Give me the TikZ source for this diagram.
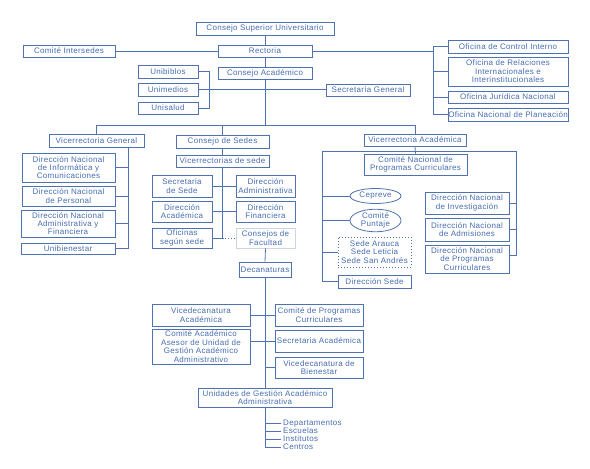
\documentclass[tikz,border=0pt]{standalone}
\usepackage{fontspec}
\setmainfont{Liberation Sans}[LetterSpace=4]
\usetikzlibrary{shapes.geometric}
\definecolor{ln}{RGB}{80,115,175}
\definecolor{tx}{RGB}{70,108,178}
\newcommand\bx[7][]{%
  \pgfmathsetmacro\bxw{#5-#3}\pgfmathsetmacro\bxh{#6-#4}%
  \node[box,minimum width=\bxw pt,minimum height=\bxh pt,#1] (#2) at ({(#3+#5)/2},{(#4+#6)/2}) {#7};}
\begin{document}
\begin{tikzpicture}[x=1pt,y=-1pt,
  box/.style={draw=ln,line width=0.8pt,rectangle,inner sep=0pt,align=center,text=tx,
    font=\fontsize{8}{8.4}\selectfont},
  oval/.style={draw=ln,line width=0.8pt,ellipse,inner sep=0pt,align=center,text=tx,
    font=\fontsize{8}{8.4}\selectfont},
  lbl/.style={inner xsep=2pt,inner ysep=0pt,text height=5.6pt,text depth=1.6pt,anchor=west,text=tx,
    font=\fontsize{8}{8.4}\selectfont},
  conn/.style={draw=ln,line width=0.8pt}]
\useasboundingbox (0,0) rectangle (590,469);
% top
\bx{csu}{196}{22}{334}{35}{Consejo Superior Universitario}
\bx{rect}{218}{45}{312}{57}{Rectoria}
\bx{ci}{23}{45}{115}{57}{Comité Intersedes}
\bx{cacad}{218}{67}{312}{79}{Consejo Académico}
\bx{unib}{138}{65}{198}{78}{Unibiblos}
\bx{unim}{138}{83}{198}{96}{Unimedios}
\bx{unis}{138}{102}{198}{114}{Unisalud}
\bx{secg}{326}{84}{410}{96}{Secretaría General}
\bx{oci}{448}{40}{568}{53}{Oficina de Control Interno}
\bx{orel}{448}{57}{568}{86}{Oficina de Relaciones\\Internacionales e\\Interinstitucionales}
\bx{ojn}{448}{91}{568}{103}{Oficina Jurídica Nacional}
\bx{onp}{448}{108}{568}{121}{Oficina Nacional de Planeación}
% second level
\bx{vg}{49}{134}{144}{147}{Vicerrectoria General}
\bx{cs}{176}{135}{269}{148}{Consejo de Sedes}
\bx{va}{364}{134}{466}{146}{Vicerrectoria Académica}
% vicerrectoria general children
\bx{dnic}{22}{153}{115}{182}{Dirección Nacional\\de Informática y\\Comunicaciones}
\bx{dnp}{22}{186}{115}{206}{Dirección Nacional\\de Personal}
\bx{dnaf}{21}{210}{115}{237}{Dirección Nacional\\Administrativa y\\Financiera}
\bx{ubien}{21}{243}{115}{254}{Unibienestar}
% consejo de sedes
\bx{vs}{176}{155}{269}{167}{Vicerrectorias de sede}
\bx{ss}{152}{175}{212}{197}{Secretaria\\de Sede}
\bx{dac}{152}{201}{212}{222}{Dirección\\Académica}
\bx{ofs}{152}{228}{212}{248}{Oficinas\\según sede}
\bx{dad}{236}{175}{295}{197}{Dirección\\Administrativa}
\bx{dfi}{236}{201}{295}{222}{Dirección\\Financiera}
\bx[draw=ln!30]{cf}{236}{228}{295}{248}{Consejos de\\Facultad}
\bx{dec}{239}{262}{291}{277}{Decanaturas}
\bx{vda}{152}{304}{250}{326}{Vicedecanatura\\Académica}
\bx{caa}{152}{329}{250}{364}{Comité Académico\\Asesor de Unidad de\\Gestión Académico\\Administrativo}
\bx{cpc}{275}{304}{363}{326}{Comité de Programas\\Curriculares}
\bx{sa}{275}{330}{363}{352}{Secretaria Académica}
\bx{vdb}{275}{357}{363}{378}{Vicedecanatura de\\Bienestar}
\bx{ugaa}{198}{388}{332}{407}{Unidades de Gestión Académico\\Administrativa}
\node[lbl] (dep) at (281,423) {Departamentos};
\node[lbl] (esc) at (281,431.5) {Escuelas};
\node[lbl] (ins) at (281,439.5) {Institutos};
\node[lbl] (cen) at (281,447.5) {Centros};
% vicerrectoria academica
\bx{cnpc}{364}{154}{467}{175}{Comité Nacional de\\Programas Curriculares}
\node[oval,minimum width=51pt,minimum height=15pt] (cep) at (375.5,196) {Cepreve};
\node[oval,minimum width=51pt,minimum height=19pt] (cpu) at (375.5,220.5) {Comité\\Puntaje};
\bx[dash pattern=on 1pt off 2pt]{sedes}{338}{237}{411}{267}{Sede Arauca\\Sede Leticia\\Sede San Andrés}
\bx{dse}{338}{275}{411}{288}{Dirección Sede}
\bx{dni}{425}{192}{509}{214}{Dirección Nacional\\de Investigación}
\bx{dna}{425}{218}{509}{241}{Dirección Nacional\\de Admisiones}
\bx{dnpc}{425}{245}{509}{273}{Dirección Nacional\\de Programas\\Curriculares}
% coordinates
\coordinate (hbar) at (265,125);
\coordinate (lb) at (209,90);
\coordinate (rb) at (433,51);
\coordinate (vgx) at (128,150);
\coordinate (lbr) at (322,151);
\coordinate (rbr) at (516,151);
% connectors
\begin{scope}[conn]
\draw (csu.south) -- (rect.north);
\draw (rect.south) -- (cacad.north);
\draw (cacad.south) -- (hbar);
\draw (ci.east) -- (rect.west);
\draw (rect.east) -- (rect.east -| rb);
\draw (oci.west) -- (oci.west -| rb) -- (onp.west -| rb) -- (onp.west);
\draw (orel.west) -- (orel.west -| rb);
\draw (ojn.west) -- (ojn.west -| rb);
\draw (unib.east) -- (unib.east -| lb) -- (unis.east -| lb) -- (unis.east);
\draw (unim.east) -- (unim.east -| secg.west);
\draw (vg.north) -- (vg.north |- hbar) -- (va.north |- hbar) -- (va.north);
\draw (cs.north) -- (cs.north |- hbar);
% VG
\draw (vg.south -| vgx) -- (ubien.east -| vgx) -- (ubien.east);
\draw (dnic.east) -- (dnic.east -| vgx);
\draw (dnp.east) -- (dnp.east -| vgx);
\draw (dnaf.east) -- (dnaf.east -| vgx);
% CS
\draw (cs.south) -- (vs.north);
\draw (vs.south) -- (vs.south |- ofs.east) -- (ofs.east);
\draw (ss.east) -- (dad.west);
\draw (dac.east) -- (dfi.west);
\draw[dotted] (ofs.east -| vs.south) -- (cf.west);
\draw (cf.south) -- (dec.north);
\draw (dec.south) -- (ugaa.north);
\draw (vda.east) -- (cpc.west);
\draw (sa.west) -- (sa.west -| caa.east);
\draw (vdb.west) -- (vdb.west -| dec.south);
\draw (ugaa.south) |- (cen.west);
\draw (dep.west) -- (dep.west -| ugaa.south);
\draw (esc.west) -- (esc.west -| ugaa.south);
\draw (ins.west) -- (ins.west -| ugaa.south);
% VA
\draw (va.south) -- (cnpc.north);
\draw (lbr) -- (rbr);
\draw (lbr) |- (dse.west);
\draw (rbr) |- ([yshift=4pt]dnpc.east);
\draw (cep.west) -- (cep.west -| lbr);
\draw (cpu.west) -- (cpu.west -| lbr);
\draw (sedes.west) -- (sedes.west -| lbr);
\draw (dni.east) -- (dni.east -| rbr);
\draw (dna.east) -- (dna.east -| rbr);
\end{scope}
\end{tikzpicture}
\end{document}
